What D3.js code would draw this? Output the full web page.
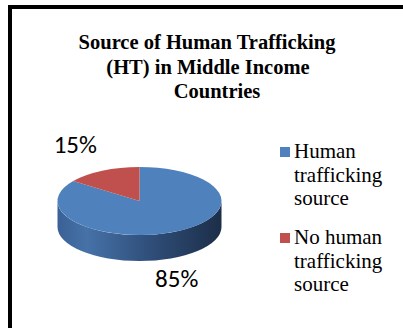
<!DOCTYPE html>
<html>
<head>
<meta charset="utf-8">
<script src="https://cdn.jsdelivr.net/npm/d3@7"></script>
<style>
  body { margin: 0; background: #fff; }
  svg { display: block; }
</style>
</head>
<body>
<svg id="chart" width="403" height="328"></svg>
<script>
// chart data
var categories = ["Human trafficking source", "No human trafficking source"];
var values = [85, 15];
var legendLines = [["Human", "trafficking", "source"], ["No human", "trafficking", "source"]];
var titleLines = ["Source of Human Trafficking", "(HT) in Middle Income", "Countries"];
var colors = ["#4f81bd", "#c0504d"];

var svg = d3.select("#chart");

// frame (only left and top edges show in the crop)
svg.append("path")
    .attr("d", "M10,330 L10,7 L410,7")
    .attr("fill", "none")
    .attr("stroke", "#000")
    .attr("stroke-width", 4);

// title
var titleX = [207, 208, 217];
svg.append("g").selectAll("text")
    .data(titleLines)
    .enter().append("text")
    .attr("x", function(d, i) { return titleX[i]; })
    .attr("y", function(d, i) { return 49 + i * 24.5; })
    .attr("text-anchor", "middle")
    .attr("font-family", "Liberation Serif")
    .attr("font-weight", "bold")
    .attr("font-size", 20.5)
    .attr("fill", "#000")
    .text(function(d) { return d; });

// 3d-ish pie
var cx = 139.5, cy = 201, rx = 82, ry = 34, depth = 26;

var pie = d3.pie().sort(null).value(function(d) { return d; });
var arcs = pie(values);

function pt(a, dy) {
    return [cx + rx * Math.sin(a), cy - ry * Math.cos(a) + (dy || 0)];
}

var defs = svg.append("defs");
var grad = defs.append("linearGradient")
    .attr("id", "side")
    .attr("gradientUnits", "userSpaceOnUse")
    .attr("x1", cx - rx).attr("x2", cx + rx)
    .attr("y1", 0).attr("y2", 0);
grad.selectAll("stop")
    .data([[0, "#3a6196"], [0.18, "#4672a8"], [0.55, "#304f7b"], [1, "#1c2e48"]])
    .enter().append("stop")
    .attr("offset", function(d) { return d[0]; })
    .attr("stop-color", function(d) { return d[1]; });

// side walls: only the front half (pi/2 .. 3pi/2) can be seen
var sides = svg.append("g");
arcs.forEach(function(d, i) {
    var a0 = Math.max(d.startAngle, Math.PI / 2),
        a1 = Math.min(d.endAngle, 3 * Math.PI / 2);
    if (a1 <= a0) return;
    var p0 = pt(a0), p1 = pt(a1), q1 = pt(a1, depth), q0 = pt(a0, depth);
    var large = (a1 - a0) > Math.PI ? 1 : 0;
    var path = "M" + p0 + " A" + rx + "," + ry + " 0 " + large + " 1 " + p1 +
        " L" + q1 + " A" + rx + "," + ry + " 0 " + large + " 0 " + q0 + " Z";
    sides.append("path")
        .attr("d", path)
        .attr("fill", i === 0 ? "url(#side)" : d3.color(colors[i]).darker(1));
});

// top faces
svg.append("g").selectAll("path")
    .data(arcs)
    .enter().append("path")
    .attr("d", function(d) {
        var p0 = pt(d.startAngle), p1 = pt(d.endAngle);
        var large = (d.endAngle - d.startAngle) > Math.PI ? 1 : 0;
        return "M" + cx + "," + cy + " L" + p0 + " A" + rx + "," + ry + " 0 " + large + " 1 " + p1 + " Z";
    })
    .attr("fill", function(d, i) { return colors[i]; });

// percent labels outside the slices
var total = d3.sum(values);
var labelNudge = [[0, 30 + depth], [-27, -18]];
svg.append("g").selectAll("text")
    .data(arcs)
    .enter().append("text")
    .attr("x", function(d, i) { return pt((d.startAngle + d.endAngle) / 2)[0] + labelNudge[i][0]; })
    .attr("y", function(d, i) { return pt((d.startAngle + d.endAngle) / 2)[1] + labelNudge[i][1]; })
    .attr("text-anchor", "middle")
    .attr("font-family", "Carlito")
    .attr("font-size", 25)
    .attr("fill", "#000")
    .text(function(d) { return Math.round(d.value / total * 100) + "%"; });

// legend
var legend = svg.append("g").attr("transform", "translate(280,0)");
var groupY = [158, 244];
var lg = legend.selectAll("g")
    .data(categories)
    .enter().append("g")
    .attr("transform", function(d, i) { return "translate(0," + groupY[i] + ")"; });
lg.append("rect")
    .attr("x", 0).attr("y", -11)
    .attr("width", 10).attr("height", 10)
    .attr("fill", function(d, i) { return colors[i]; });
lg.append("text")
    .attr("font-family", "Liberation Serif")
    .attr("font-size", 21)
    .attr("fill", "#000")
    .selectAll("tspan")
    .data(function(d, i) { return legendLines[i]; })
    .enter().append("tspan")
    .attr("x", 14)
    .attr("y", function(d, j) { return j * 23.5; })
    .text(function(d) { return d; });
</script>
</body>
</html>
